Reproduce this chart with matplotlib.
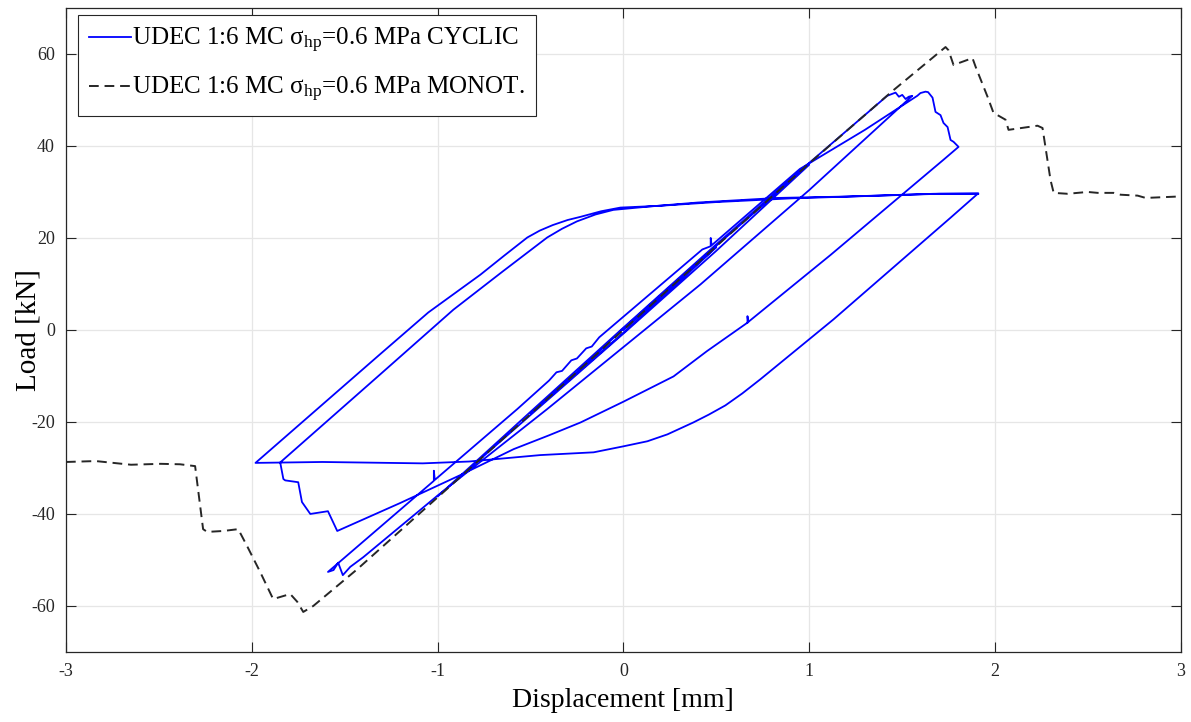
import matplotlib.pyplot as plt
import matplotlib

matplotlib.rcParams['font.family'] = ['Liberation Serif', 'DejaVu Serif']
matplotlib.rcParams['mathtext.fontset'] = 'custom'
matplotlib.rcParams['mathtext.rm'] = 'Liberation Serif'
matplotlib.rcParams['mathtext.it'] = 'Liberation Serif'
matplotlib.rcParams['axes.unicode_minus'] = False

# UDEC cyclic curve (displacement mm, load kN), traced along the loading path
cyc_x = [0.0, 0.25, 0.5, 0.25, 0.0, -0.5, -0.25, 0.0, 0.5, 1.0, 0.5, 0.0, -0.5, -1.0,
         -0.5, 0.0, 0.5, 1.0, 1.42,
         1.465, 1.483, 1.501, 1.519, 1.536, 1.555,
         1.0, 0.415, -0.41, -1.0, -1.40, -1.47, -1.51, -1.535, -1.56, -1.59,
         -1.02, -1.02, -1.015, -0.571, -0.40, -0.36, -0.33, -0.28, -0.25, -0.20, -0.17, -0.13,
         0.425, 0.47, 0.47, 0.475, 0.95, 1.3, 1.582, 1.599, 1.626, 1.64,
         1.664, 1.680, 1.707, 1.723, 1.745, 1.761, 1.777, 1.804,
         1.723, 1.115, 0.668, 0.668, 0.672, 0.45, 0.27, 0.0, -0.23, -0.4, -0.59, -0.88,
         -1.2, -1.54,
         -1.59, -1.685, -1.73, -1.75, -1.82, -1.83, -1.847,
         -1.31, -0.915, -0.65, -0.41, -0.33, -0.25, -0.15, -0.054, 0.13, 0.40, 0.83, 1.2,
         1.67, 1.91,
         1.761, 1.131, 0.738, 0.64, 0.549, 0.46, 0.377, 0.237, 0.129, 0.0, -0.16, -0.447,
         -0.83, -1.08, -1.62, -1.98,
         -1.31, -1.05, -0.77, -0.64, -0.517, -0.45, -0.38, -0.30, -0.23, -0.12, -0.016,
         0.2, 0.5, 0.9, 1.3, 1.7, 1.91]
cyc_y = [0.0, 9.0, 18.0, 8.6, -0.6, -18.2, -9.2, 0.3, 18.3, 35.9, 17.2, -0.8, -18.5, -36.2,
         -17.8, 0.5, 18.6, 36.3, 50.9,
         51.6, 50.7, 51.1, 50.2, 50.7, 50.9,
         30.4, 9.9, -17.2, -36.0, -49.4, -51.5, -53.3, -50.6, -52.2, -52.6,
         -32.8, -30.6, -32.6, -17.2, -11.0, -9.2, -8.9, -6.6, -6.2, -4.0, -3.6, -1.6,
         17.5, 18.2, 20.0, 18.4, 35.0, 43.5, 50.9, 51.5, 51.8, 51.7,
         50.5, 47.4, 46.7, 45.0, 44.1, 41.3, 40.9, 39.8,
         37.0, 16.3, 1.6, 3.0, 1.7, -4.6, -10.1, -15.6, -20.1, -22.9, -25.9, -31.6,
         -37.6, -43.7,
         -39.4, -40.0, -37.4, -33.1, -32.7, -32.4, -28.8,
         -9.7, 4.4, 12.7, 20.1, 22.0, 23.6, 25.1, 26.1, 26.8, 27.7, 28.7, 29.0,
         29.6, 29.7,
         24.4, 2.3, -10.7, -13.8, -16.4, -18.4, -20.1, -22.7, -24.2, -25.3, -26.6, -27.2,
         -28.6, -29.0, -28.7, -28.9,
         -5.3, 3.8, 12.0, 16.2, 20.1, 21.6, 22.8, 23.9, 24.6, 25.8, 26.6,
         27.0, 27.8, 28.6, 29.1, 29.6, 29.6]

# UDEC monotonic curves (negative and positive push)
mono_x = [-3.0, -2.84, -2.65, -2.49, -2.386, -2.305, -2.262, -2.240, -2.154, -2.073, -2.025,
          -1.955, -1.885, -1.793, -1.755, -1.723, -1.669, -1.432, -1.0, -0.5, 0.0,
          0.5, 1.0, 1.45, 1.734, 1.750, 1.777, 1.879, 1.896, 1.960, 1.992, 2.057, 2.073,
          2.229, 2.256, 2.299, 2.316, 2.391, 2.499, 2.553, 2.639, 2.676, 2.768, 2.811,
          2.983, 3.0]
mono_y = [-28.7, -28.5, -29.3, -29.1, -29.2, -29.6, -43.3, -43.9, -43.7, -43.3, -47.0,
          -52.6, -58.5, -57.4, -59.1, -61.3, -60.0, -52.0, -36.4, -18.3, 0.0,
          18.2, 36.2, 52.0, 61.5, 60.8, 57.6, 59.1, 57.2, 50.7, 47.2, 45.7, 43.5,
          44.4, 43.9, 32.6, 29.8, 29.6, 30.0, 29.8, 29.8, 29.4, 29.2, 28.7,
          29.0, 29.0]

labels = [r'UDEC 1:6 MC $\mathrm{\sigma_{hp}}$=0.6 MPa CYCLIC',
          r'UDEC 1:6 MC $\mathrm{\sigma_{hp}}$=0.6 MPa MONOT.']

fig = plt.figure(figsize=(11.91, 7.22), dpi=100)
ax = fig.add_axes([0.0554, 0.097, 0.936, 0.892])

ax.plot(cyc_x, cyc_y, color='#0000ff', lw=1.3, label=labels[0])
ax.plot(mono_x, mono_y, color='#262626', lw=1.4, linestyle=(0, (5, 3)), label=labels[1])

ax.set_xlim(-3, 3)
ax.set_ylim(-70, 70)
ax.set_xticks([-3, -2, -1, 0, 1, 2, 3])
ax.set_yticks([-60, -40, -20, 0, 20, 40, 60])

ax.grid(True, color='#e6e6e6', lw=0.9)
ax.set_axisbelow(True)
ax.tick_params(direction='in', length=7, width=0.8, top=True, right=True,
               labelsize=13, colors='#262626', pad=8)
for s in ax.spines.values():
    s.set_color('#262626')
    s.set_linewidth(0.9)

ax.set_xlabel('Displacement [mm]', fontsize=20, labelpad=6)
ax.set_ylabel('Load [kN]', fontsize=21)
ax.yaxis.set_label_coords(-0.022, 0.5)

leg = ax.legend(loc='upper left', bbox_to_anchor=(0.011, 0.989), borderaxespad=0,
                fontsize=18, fancybox=False, framealpha=1, edgecolor='#262626',
                handlelength=1.65, handletextpad=0.05, labelspacing=0.8, borderpad=0.45)
leg.get_frame().set_linewidth(0.8)

plt.savefig('out.png', dpi=100, facecolor='white')
plt.close()
